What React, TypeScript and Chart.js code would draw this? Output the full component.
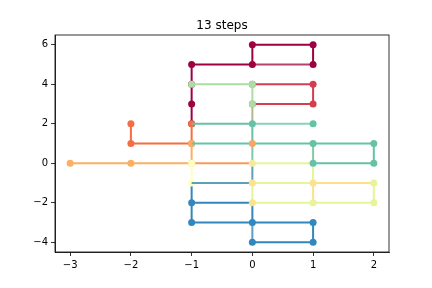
import React, { useEffect, useRef } from "react";
import { Chart, registerables } from "chart.js";

Chart.register(...registerables);

const titleText = "13 steps";
const xTicks = [-3, -2, -1, 0, 1, 2];
const yTicks = [-4, -2, 0, 2, 4, 6];

// walk pieces as [x, y] lattice points
const crimsonSeg = [[0, 5], [1, 5]];
const darkRedPath = [[-1, 2], [-1, 3], [-1, 4], [-1, 5], [0, 5], [0, 6], [1, 6], [1, 5]];
const redPath = [[0, 4], [1, 4], [1, 3], [0, 3]];
const oliveSeg = [[0, 3], [0, 2]];
const lightGreenPath = [[-1, 4], [0, 4], [0, 3]];
const orangeRedPath = [[-2, 2], [-2, 1], [-1, 1], [-1, 2]];
const orangePath = [[-3, 0], [-2, 0], [-1, 0], [-1, 1]];
const deepOrangeSeg = [[-1, 0], [0, 0]];
const tealSeg = [[0, 1], [0, 0]];
const paleGreenSegA = [[0, 2], [1, 2]];
const paleGreenSegB = [[1, 0], [1, 1]];
const greenLineA = [[-1, 2], [0, 2], [0, 1]];
const greenLineB = [[-1, 1], [0, 1], [1, 1], [2, 1], [2, 0], [1, 0]];
const greenDots = [[0, 2], [1, 2], [1, 1], [2, 1], [2, 0], [1, 0]];
const orangeDots = [[0, 1]];
const lightBlueSeg = [[0, -4], [0, -3]];
const blueLineA = [[-1, -1], [-1, -2], [-1, -3], [0, -3], [1, -3], [1, -4], [0, -4]];
const blueLineB = [[-1, -2], [0, -2], [0, -3]];
const blueDots = [[-1, -2], [-1, -3], [0, -3], [1, -3], [1, -4], [0, -4]];
const yellowLine = [[2, -1], [1, -1], [1, -2]];
const yellowGreenLine = [[0, 0], [1, 0], [1, -1], [0, -1], [0, -2], [1, -2], [2, -2], [2, -1]];
const lightYellowPath = [[-1, 0], [-1, -1]];
const steelLine = [[0, 0], [0, -1], [-1, -1]];
const yellowGreenDots = [[2, -1], [2, -2], [1, -2]];
const yellowDots = [[1, -1], [0, -1], [0, -2]];
const paleDots = [[0, 0]];

type Layer = { pts: number[][]; color: string; line: boolean; dots: boolean };

// bottom to top
const layers: Layer[] = [
  { pts: crimsonSeg, color: "#b5446b", line: true, dots: false },
  { pts: darkRedPath, color: "#9e0142", line: true, dots: true },
  { pts: redPath, color: "#d53e4f", line: true, dots: true },
  { pts: oliveSeg, color: "#b4b890", line: true, dots: false },
  { pts: lightGreenPath, color: "#abdda4", line: true, dots: true },
  { pts: orangeRedPath, color: "#f46d43", line: true, dots: true },
  { pts: orangePath, color: "#fdae61", line: true, dots: true },
  { pts: deepOrangeSeg, color: "#f89a58", line: true, dots: false },
  { pts: tealSeg, color: "#7ccaa8", line: true, dots: false },
  { pts: paleGreenSegA, color: "#8ad1b6", line: true, dots: false },
  { pts: paleGreenSegB, color: "#84cba4", line: true, dots: false },
  { pts: greenLineA, color: "#66c2a5", line: true, dots: false },
  { pts: greenLineB, color: "#66c2a5", line: true, dots: false },
  { pts: lightBlueSeg, color: "#5b9ec6", line: true, dots: false },
  { pts: blueLineA, color: "#3288bd", line: true, dots: false },
  { pts: blueLineB, color: "#3288bd", line: true, dots: false },
  { pts: blueDots, color: "#3288bd", line: false, dots: true },
  { pts: yellowLine, color: "#fee08b", line: true, dots: false },
  { pts: yellowGreenLine, color: "#e6f598", line: true, dots: false },
  { pts: greenDots, color: "#66c2a5", line: false, dots: true },
  { pts: orangeDots, color: "#f6a765", line: false, dots: true },
  { pts: lightYellowPath, color: "#ffffbf", line: true, dots: true },
  { pts: steelLine, color: "#5e9fb8", line: true, dots: false },
  { pts: yellowGreenDots, color: "#e6f598", line: false, dots: true },
  { pts: yellowDots, color: "#fbe28e", line: false, dots: true },
  { pts: paleDots, color: "#f3ec9f", line: false, dots: true },
];

const fmt = (v: number) => (v < 0 ? "\u2212" + Math.abs(v) : String(v));

const framePlugin = {
  id: "frameAndTitle",
  afterDraw(chart: any) {
    const { ctx, chartArea } = chart;
    ctx.save();
    ctx.strokeStyle = "#000";
    ctx.lineWidth = 0.8;
    ctx.strokeRect(chartArea.left, chartArea.top, chartArea.right - chartArea.left, chartArea.bottom - chartArea.top);
    ctx.fillStyle = "#000";
    ctx.font = "12px 'DejaVu Sans'";
    ctx.textAlign = "center";
    ctx.textBaseline = "alphabetic";
    ctx.fillText(titleText, (chartArea.left + chartArea.right) / 2, chartArea.top - 6);
    ctx.restore();
  },
};

export default function App() {
  const ref = useRef<HTMLCanvasElement>(null);
  useEffect(() => {
    if (!ref.current) return;
    const n = layers.length;
    const datasets = layers.map((l, i) => ({
      data: l.pts.map((p) => ({ x: p[0], y: p[1] })),
      showLine: l.line,
      borderColor: l.color,
      backgroundColor: l.color,
      borderWidth: 2,
      pointRadius: l.dots ? 3.5 : 0,
      pointHoverRadius: 0,
      pointBorderWidth: 0,
      pointBackgroundColor: l.color,
      order: n - i,
      tension: 0,
    }));
    const axisCommon = {
      type: "linear" as const,
      grid: { display: true, drawOnChartArea: false, drawTicks: true, tickLength: 4, color: "#000", lineWidth: 0.8 },
      border: { display: true, color: "#000", width: 0.8 },
    };
    const chart = new Chart(ref.current, {
      type: "scatter",
      data: { datasets },
      options: {
        animation: false,
        responsive: false,
        devicePixelRatio: 1,
        layout: { padding: { top: 35, right: 43, bottom: 0, left: 0 } },
        plugins: { legend: { display: false }, tooltip: { enabled: false }, title: { display: false } },
        scales: {
          x: {
            ...axisCommon,
            min: -3.25,
            max: 2.25,
            afterBuildTicks: (s: any) => {
              s.ticks = xTicks.map((v) => ({ value: v }));
            },
            afterFit: (s: any) => {
              s.height = 36;
            },
            ticks: {
              color: "#000",
              font: { family: "'DejaVu Sans'", size: 10 },
              padding: 3,
              maxRotation: 0,
              autoSkip: false,
              callback: (v: any) => fmt(Number(v)),
            },
          },
          y: {
            ...axisCommon,
            min: -4.5,
            max: 6.5,
            afterBuildTicks: (s: any) => {
              s.ticks = yTicks.map((v) => ({ value: v }));
            },
            afterFit: (s: any) => {
              s.width = 55;
            },
            ticks: {
              color: "#000",
              font: { family: "'DejaVu Sans'", size: 10 },
              padding: 3,
              autoSkip: false,
              callback: (v: any) => fmt(Number(v)),
            },
          },
        },
      },
      plugins: [framePlugin],
    });
    return () => chart.destroy();
  }, []);
  return (
    <div style={{ position: "absolute", left: 0, top: 0, width: 432, height: 288, background: "#fff" }}>
      <canvas ref={ref} width={432} height={288} />
    </div>
  );
}
